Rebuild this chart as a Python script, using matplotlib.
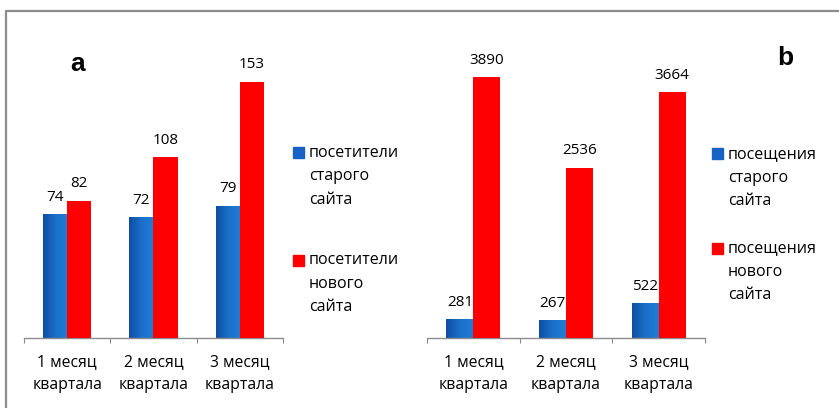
import numpy as np
import matplotlib
matplotlib.use("Agg")
import matplotlib.pyplot as plt
from matplotlib.colors import LinearSegmentedColormap
from matplotlib.patches import Rectangle
from matplotlib.lines import Line2D

plt.rcParams['font.family'] = ['Open Sans', 'DejaVu Sans']

# data
months = ['1 месяц\nквартала', '2 месяц\nквартала', '3 месяц\nквартала']
visitors_old = [74, 72, 79]
visitors_new = [82, 108, 153]
visits_old = [281, 267, 522]
visits_new = [3890, 2536, 3664]
legend_a = ['посетители\nстарого\nсайта', 'посетители\nнового\nсайта']
legend_b = ['посещения\nстарого\nсайта', 'посещения\nнового\nсайта']

W, H = 839, 408
BLUE = '#1862c4'
RED = '#ff0000'
GREY = '#8c8c8c'
blue_grad = LinearSegmentedColormap.from_list('bg', ['#0e4ea4', '#1a6fc9', '#1f7dd6'])


def fx(px):
    return px / W


def fy(py):
    return 1 - py / H


def draw_panel(ax, old, new, ymax, width):
    x = np.arange(len(months))
    b_old = ax.bar(x - width / 2, old, width, color=BLUE, zorder=2)
    ax.bar(x + width / 2, new, width, color=RED, zorder=3)
    # excel-like gradient on blue bars
    grad = np.linspace(0, 1, 64).reshape(1, -1)
    for p in b_old:
        im = ax.imshow(grad, extent=(p.get_x(), p.get_x() + p.get_width(), 0, p.get_height()),
                       aspect='auto', cmap=blue_grad, zorder=2.1)
        im.set_clip_path(p)
    for xi, v in zip(x, old):
        ax.annotate(str(v), (xi - width / 2, v), xytext=(0, 12.2), textcoords='offset points',
                    ha='center', va='center', fontsize=11, zorder=2.5)
    for xi, v in zip(x, new):
        ax.annotate(str(v), (xi + width / 2, v), xytext=(0, 12.2), textcoords='offset points',
                    ha='center', va='center', fontsize=11, zorder=4)
    ax.set_xlim(-0.5, len(months) - 0.5)
    ax.set_ylim(0, ymax)
    for s in ['top', 'left', 'right']:
        ax.spines[s].set_visible(False)
    ax.spines['bottom'].set_color(GREY)
    ax.spines['bottom'].set_linewidth(1)
    ax.set_yticks([])
    ax.set_xticks(np.arange(len(months) + 1) - 0.5)
    ax.set_xticklabels([])
    ax.tick_params(axis='x', which='major', length=3.6, color=GREY, direction='out')
    ax.set_xticks(x, minor=True)
    ax.set_xticklabels(months, minor=True, fontsize=11.3, linespacing=1.6)
    ax.tick_params(axis='x', which='minor', length=0, pad=11.5)


def draw_legend(fig, labels, x_sq, x_txt, y_first):
    for lab, y0, col in zip(labels, y_first, [BLUE, RED]):
        fig.patches.append(Rectangle((fx(x_sq - 5.5), fy(y0 + 5.5)), 11 / W, 11 / H,
                                     transform=fig.transFigure, color=col))
        for i, line in enumerate(lab.split('\n')):
            fig.text(fx(x_txt), fy(y0 + i * 23.5), line, fontsize=11.5, ha='left', va='center')


fig = plt.figure(figsize=(W / 100, H / 100), dpi=100)

ax_a = fig.add_axes([fx(24), fy(338), 259 / W, 308 / H])
draw_panel(ax_a, visitors_old, visitors_new, 184, 0.28)

ax_b = fig.add_axes([fx(427), fy(338), 278 / W, 308 / H])
draw_panel(ax_b, visits_old, visits_new, 4590, 0.29)

draw_legend(fig, legend_a, 298.5, 309, [153, 260])
draw_legend(fig, legend_b, 717.5, 728, [154, 248])

fig.text(fx(78), fy(64), 'a', fontsize=19, fontweight='bold', family='Liberation Sans',
         ha='center', va='center')
fig.text(fx(785), fy(58), 'b', fontsize=19, fontweight='bold', family='Liberation Sans',
         ha='center', va='center')

# frame around the picture
fig.lines.append(Line2D([fx(5.8), fx(5.8), 1], [fy(H), fy(11.3), fy(11.3)],
                        transform=fig.transFigure, color=GREY, lw=1.6))

fig.savefig('out.png', dpi=100)
